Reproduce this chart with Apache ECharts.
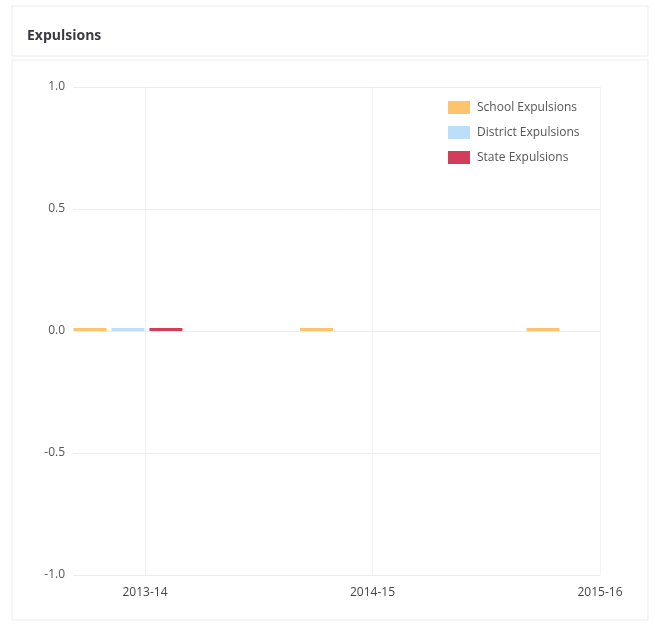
<!DOCTYPE html>
<html>
<head>
<meta charset="utf-8">
<title>Expulsions</title>
<script src="https://cdn.jsdelivr.net/npm/echarts@6/dist/echarts.min.js"></script>
<style>
  html, body { margin: 0; padding: 0; background: #fff; }
  #chart { width: 655px; height: 625px; }
</style>
</head>
<body>
<div id="chart"></div>
<script>
// School years on the horizontal axis
const categories = ['2013-14', '2014-15', '2015-16'];

// Expulsion counts per year (null = not reported)
const schoolExpulsions = [0, 0, 0];
const districtExpulsions = [0, null, null];
const stateExpulsions = [0, null, null];

// Value-axis ticks
const yTicks = [-1, -0.5, 0, 0.5, 1];

const colors = {
  school: '#FDC46D',
  district: '#BDDEF8',
  state: '#D23E5A'
};

const labelFont = 'Open Sans, Noto Sans, sans-serif';

// pair each year's index with its value so bars sit on the numeric year axis
const toPoints = arr => arr.map((v, i) => [i, v === null ? '-' : v]);

const chart = echarts.init(document.getElementById('chart'), null, { renderer: 'canvas' });

const option = {
  animation: false,
  backgroundColor: '#ffffff',
  graphic: [
    // panel header and body frames
    { type: 'rect', shape: { x: 12, y: 6, width: 636, height: 50 },
      style: { fill: 'none', stroke: '#ececec', lineWidth: 1 }, z: -10 },
    { type: 'rect', shape: { x: 12, y: 60, width: 636, height: 560 },
      style: { fill: 'none', stroke: '#ececec', lineWidth: 1 }, z: -10 }
  ],
  title: {
    text: 'Expulsions',
    left: 22,
    top: 24,
    textStyle: { fontFamily: labelFont, fontSize: 14, fontWeight: 'bold', color: '#3a3a44' }
  },
  legend: {
    orient: 'vertical',
    left: 443,
    top: 96,
    itemWidth: 22,
    itemHeight: 13,
    itemGap: 12,
    icon: 'rect',
    textStyle: { fontFamily: labelFont, fontSize: 12, color: '#555', padding: [0, 0, 0, 2] },
    data: ['School Expulsions', 'District Expulsions', 'State Expulsions']
  },
  grid: { left: 73, right: 55, top: 87, bottom: 50, containLabel: false },
  xAxis: [
    {
      // year labels and vertical gridlines
      type: 'value',
      min: -0.3165,
      max: 2,
      axisLine: { show: false },
      axisTick: { show: false, customValues: [0, 1, 2] },
      axisLabel: {
        customValues: [0, 1, 2],
        formatter: v => categories[Math.round(v)] || '',
        margin: 12,
        fontFamily: labelFont,
        fontSize: 12,
        color: '#444'
      },
      splitLine: { show: true, lineStyle: { color: '#f2f2f2', width: 1 } }
    },
    {
      // positions of the bar groups
      type: 'value',
      min: -0.2428,
      max: 2.084,
      show: false,
      splitLine: { show: false }
    }
  ],
  yAxis: {
    type: 'value',
    min: yTicks[0],
    max: yTicks[yTicks.length - 1],
    interval: 0.5,
    axisLine: { show: false },
    axisTick: { show: false },
    axisLabel: {
      formatter: v => v.toFixed(1),
      margin: 8,
      fontFamily: labelFont,
      fontSize: 12,
      color: '#555'
    },
    splitLine: { show: true, lineStyle: { color: '#ededed', width: 1 } }
  },
  series: [
    {
      name: 'School Expulsions',
      type: 'bar',
      xAxisIndex: 1,
      data: toPoints(schoolExpulsions),
      barWidth: 33,
      barGap: '15%',
      barMinHeight: 3,
      itemStyle: { color: colors.school }
    },
    {
      name: 'District Expulsions',
      type: 'bar',
      xAxisIndex: 1,
      data: toPoints(districtExpulsions),
      barWidth: 33,
      barGap: '15%',
      barMinHeight: 3,
      itemStyle: { color: colors.district }
    },
    {
      name: 'State Expulsions',
      type: 'bar',
      xAxisIndex: 1,
      data: toPoints(stateExpulsions),
      barWidth: 33,
      barGap: '15%',
      barMinHeight: 3,
      itemStyle: { color: colors.state }
    }
  ]
};

chart.setOption(option);
</script>
</body>
</html>
